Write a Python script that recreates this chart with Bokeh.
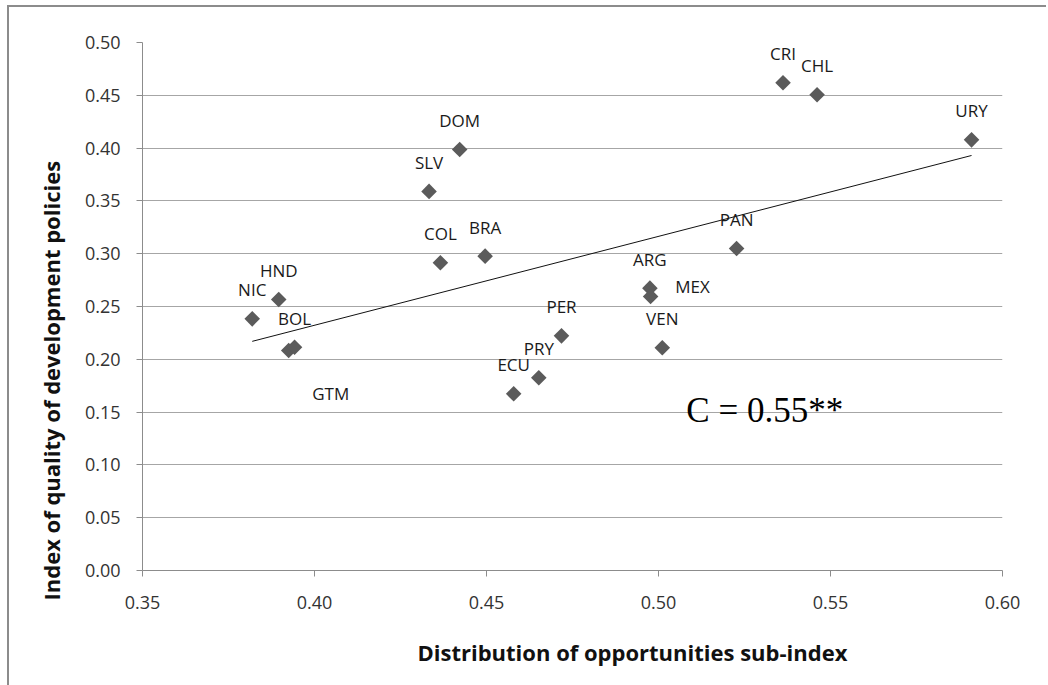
import numpy as np
from bokeh.plotting import figure
from bokeh.models import (ColumnDataSource, LabelSet, Label, FixedTicker, NumeralTickFormatter,
                          Range1d, Title)
from bokeh.embed import file_html
from bokeh.resources import INLINE
from bokeh.core.properties import value

# ---- data ----
countries = ["NIC", "HND", "GTM", "BOL", "SLV", "COL", "DOM", "BRA", "ECU",
             "PRY", "PER", "ARG", "MEX", "VEN", "PAN", "CRI", "CHL", "URY"]
opportunities = [0.3819, 0.3896, 0.3925, 0.3942, 0.4333, 0.4366, 0.4422, 0.4496, 0.4579,
                 0.4652, 0.4718, 0.4975, 0.4977, 0.5011, 0.5227, 0.5362, 0.5461, 0.5910]
policy_quality = [0.2383, 0.2566, 0.2083, 0.2115, 0.3590, 0.2914, 0.3987, 0.2977, 0.1673,
                  0.1825, 0.2222, 0.2674, 0.2595, 0.2109, 0.3049, 0.4618, 0.4505, 0.4078]
x_ticks = [0.35, 0.40, 0.45, 0.50, 0.55, 0.60]
y_ticks = [0.00, 0.05, 0.10, 0.15, 0.20, 0.25, 0.30, 0.35, 0.40, 0.45, 0.50]
coef_text = "C = 0.55**"
x_title = "Distribution of opportunities sub-index"
y_title = "Index of quality of development policies"

# ---- label placement (styling) ----
default_offset = (0, 29)
special_offsets = {"MEX": (42, 10), "GTM": (42, -43)}
x_off = [special_offsets.get(c, default_offset)[0] for c in countries]
y_off = [special_offsets.get(c, default_offset)[1] for c in countries]

src = ColumnDataSource(dict(x=opportunities, y=policy_quality, name=countries,
                            xo=x_off, yo=y_off))

p = figure(output_backend="svg", toolbar_location=None,
           frame_width=860, frame_height=528,
           x_range=Range1d(x_ticks[0], x_ticks[-1]), y_range=Range1d(y_ticks[0], y_ticks[-1]),
           min_border_left=133, min_border_right=44, min_border_top=35, min_border_bottom=108)
p.styles = {"border-left": "2px solid #8c8c8c", "border-top": "2px solid #8c8c8c",
            "margin-left": "7px", "margin-top": "5px"}
p.outline_line_color = None
p.background_fill_color = "white"
p.border_fill_color = "white"

# grid
p.xgrid.grid_line_color = None
p.ygrid.grid_line_color = "#a6a6a6"
p.ygrid.grid_line_width = 1

# axes
for ax in (p.xaxis[0], p.yaxis[0]):
    ax.axis_line_color = "#8c8c8c"
    ax.major_tick_line_color = "#8c8c8c"
    ax.major_tick_out = 6
    ax.major_tick_in = 0
    ax.minor_tick_line_color = None
    ax.major_label_text_font = "Open Sans"
    ax.major_label_text_font_size = "18px"
    ax.major_label_text_color = "#333333"
    ax.formatter = NumeralTickFormatter(format="0.00")

p.xaxis.ticker = FixedTicker(ticks=x_ticks)
p.yaxis.ticker = FixedTicker(ticks=y_ticks)
p.xaxis.major_label_standoff = 19
p.yaxis.major_label_standoff = 16

# axis titles, offset like the reference (centred on the chart area, not the plot frame)
title_style = dict(text_font="Open Sans", text_font_style="bold", text_font_size="22px",
                   text_color="#111111", align="left")
p.add_layout(Title(text=x_title, offset=275, standoff=46, **title_style), "below")
p.add_layout(Title(text=y_title, offset=-30, standoff=31, **title_style), "left")

# trend line (least squares fit of the points)
coef = np.polyfit(opportunities, policy_quality, 1)
tx = [min(opportunities), max(opportunities)]
ty = list(np.polyval(coef, tx))
p.line(tx, ty, line_color="#111111", line_width=1)

# markers
p.scatter("x", "y", source=src, marker="square", angle=np.pi / 4, size=11,
          fill_color="#5b5b5b", line_color=None)

labels = LabelSet(x="x", y="y", text="name", source=src, x_offset="xo", y_offset="yo",
                  text_align="center", text_baseline="middle",
                  text_font=value("Open Sans"), text_font_size="17px", text_color="#1a1a1a")
p.add_layout(labels)

p.add_layout(Label(x=0.5081, y=0.1515, text=coef_text, text_align="left",
                   text_baseline="alphabetic", text_font="Liberation Serif",
                   text_font_size="35px", text_color="black"))

open("out.html", "w").write(file_html(p, INLINE))
